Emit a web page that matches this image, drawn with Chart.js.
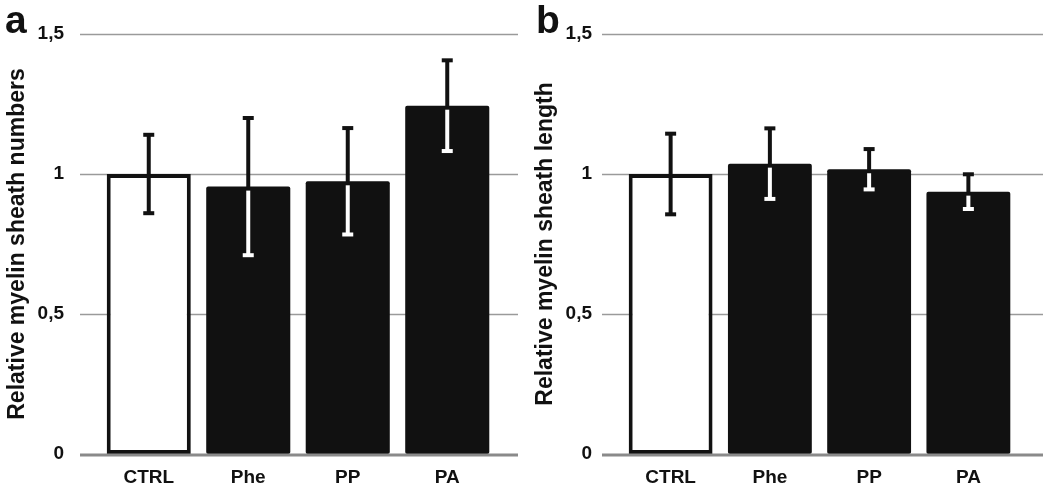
<!DOCTYPE html>
<html>
<head>
<meta charset="utf-8">
<script src="https://cdn.jsdelivr.net/npm/chart.js@4.4.0/dist/chart.umd.min.js"></script>
<style>
  body { margin: 0; background: #fff; width: 1050px; height: 489px; overflow: hidden; position: relative; }
  .panel { position: absolute; top: 0; width: 525px; height: 489px; }
  .letter { position: absolute; font-family: "Liberation Sans", Arial, sans-serif; font-weight: bold; font-size: 39px; line-height: 38px; color: #111; }
</style>
</head>
<body>
<div class="panel" style="left:0"><canvas id="numbersChart" width="525" height="489"></canvas></div>
<div class="panel" style="left:525px"><canvas id="lengthChart" width="525" height="489"></canvas></div>
<div class="letter" style="left:5px; top:1px">a</div>
<div class="letter" style="left:536px; top:1px">b</div>
<script>
const categories = ['CTRL', 'Phe', 'PP', 'PA'];
const yTicks = [0, 0.5, 1, 1.5];

// a: relative myelin sheath numbers
const numbersMean = [1.0, 0.955, 0.974, 1.244];
const numbersErr = [0.14, 0.245, 0.19, 0.162];

// b: relative myelin sheath length
const lengthMean = [1.0, 1.037, 1.017, 0.937];
const lengthErr = [0.144, 0.126, 0.072, 0.062];

const FONT = '"Liberation Sans", Arial, Helvetica, sans-serif';

// horizontal grid lines, a bit wider than the bar area
const extGrid = {
    id: 'extGrid',
    beforeDatasetsDraw(chart, args, opts) {
        const ctx = chart.ctx, y = chart.scales.y;
        ctx.save();
        ctx.strokeStyle = '#9a9a9a';
        ctx.lineWidth = 1.5;
        y.ticks.forEach(t => {
            if (t.value === 0) return;
            const py = Math.round(y.getPixelForValue(t.value)) + 0.5;
            ctx.beginPath();
            ctx.moveTo(opts.left, py);
            ctx.lineTo(opts.right, py);
            ctx.stroke();
        });
        ctx.restore();
    },
    afterDatasetsDraw(chart, args, opts) {
        const ctx = chart.ctx, y = chart.scales.y;
        const py = y.getPixelForValue(0) + 1;
        ctx.save();
        ctx.strokeStyle = '#8a8a8a';
        ctx.lineWidth = 3;
        ctx.beginPath();
        ctx.moveTo(opts.left, py);
        ctx.lineTo(opts.right, py);
        ctx.stroke();
        ctx.restore();
    }
};

// error bars: black above the bar, white inside black bars
const errorBars = {
    id: 'errorBars',
    afterDatasetsDraw(chart, args, opts) {
        const ctx = chart.ctx, y = chart.scales.y;
        const ds = chart.data.datasets[0];
        const meta = chart.getDatasetMeta(0);
        ctx.save();
        ctx.lineWidth = 4;
        meta.data.forEach((bar, i) => {
            const v = ds.data[i], e = opts.errors[i];
            const x = bar.x;
            const yTop = y.getPixelForValue(v + e);
            const yBot = y.getPixelForValue(v - e);
            const hollow = i === 0;
            ctx.strokeStyle = '#111';
            ctx.fillStyle = '#111';
            ctx.beginPath();
            ctx.moveTo(x, yTop);
            ctx.lineTo(x, hollow ? yBot : bar.y + 2);
            ctx.stroke();
            ctx.fillRect(x - 5.5, yTop - 2, 11, 4);
            if (hollow) {
                ctx.fillRect(x - 5.5, yBot - 2, 11, 4);
            } else {
                ctx.strokeStyle = '#fff';
                ctx.fillStyle = '#fff';
                ctx.beginPath();
                ctx.moveTo(x, bar.y + 4);
                ctx.lineTo(x, yBot);
                ctx.stroke();
                ctx.fillRect(x - 5.5, yBot - 2, 11, 4);
            }
        });
        ctx.restore();
    }
};

function renderPanel(id, values, errors, title, layout) {
    const ctx = document.getElementById(id).getContext('2d');
    return new Chart(ctx, {
        type: 'bar',
        data: {
            labels: categories,
            datasets: [{
                data: values,
                backgroundColor: ['#ffffff', '#111111', '#111111', '#111111'],
                borderColor: '#111111',
                borderWidth: [4, 0, 0, 0],
                borderRadius: [0, 2, 2, 2],
                borderSkipped: false,
                barPercentage: 0.845,
                categoryPercentage: 1.0
            }]
        },
        options: {
            responsive: false,
            animation: false,
            layout: { padding: { top: 34, right: 525 - layout.right, bottom: 0, left: 0 } },
            plugins: {
                legend: { display: false },
                tooltip: { enabled: false },
                extGrid: { left: layout.gridLeft, right: layout.gridRight },
                errorBars: { errors: errors }
            },
            scales: {
                x: {
                    grid: { display: false, drawTicks: false },
                    border: { display: false },
                    ticks: { color: '#111', padding: 12, font: { family: FONT, size: 19, weight: 'bold' } },
                    afterFit: axis => { axis.height = 35; axis.paddingLeft = 0; axis.paddingRight = 0; }
                },
                y: {
                    min: 0,
                    max: 1.5,
                    afterBuildTicks: axis => { axis.ticks = yTicks.map(v => ({ value: v })); },
                    grid: { display: false, drawTicks: false },
                    border: { display: false },
                    ticks: {
                        color: '#111',
                        padding: layout.tickPad,
                        font: { family: FONT, size: 19, weight: 'bold' },
                        callback: v => String(v).replace('.', ',')
                    },
                    title: {
                        display: true,
                        text: title,
                        color: '#111',
                        padding: { top: layout.titlePad },
                        font: { family: FONT, size: 23, weight: 'bold' }
                    },
                    afterFit: axis => {
                        axis.width = layout.left;
                        axis.paddingTop = 0;
                        axis.paddingBottom = 0;
                    }
                }
            }
        },
        plugins: [extGrid, errorBars]
    });
}

renderPanel('numbersChart', numbersMean, numbersErr, 'Relative myelin sheath numbers',
    { left: 99, right: 497, gridLeft: 80, gridRight: 518, tickPad: 35, titlePad: 4 });
renderPanel('lengthChart', lengthMean, lengthErr, 'Relative myelin sheath length',
    { left: 96, right: 493, gridLeft: 77, gridRight: 518, tickPad: 29, titlePad: 7 });
</script>
</body>
</html>
